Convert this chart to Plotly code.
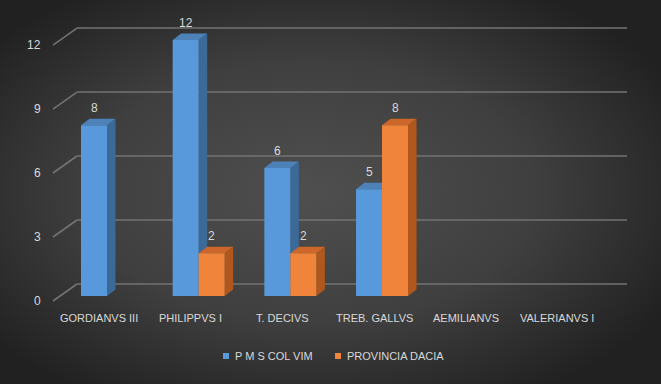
import base64
import plotly.graph_objects as go

# ---- data ----
categories = ["GORDIANVS III", "PHILIPPVS I", "T. DECIVS", "TREB. GALLVS", "AEMILIANVS", "VALERIANVS I"]
pms_col_vim = [8, 12, 6, 5, 0, 0]
provincia_dacia = [0, 2, 2, 8, 0, 0]
series_names = ["P M S COL VIM", "PROVINCIA DACIA"]
y_ticks = [0, 3, 6, 9, 12]

# ---- geometry of the pseudo-3D frame (pixels) ----
W, H = 661, 384
X0_PX = 107.0      # centre of the first category group
CAT_PX = 91.67     # distance between category groups
BASE_PX = 296.0    # baseline of the bar fronts
UNIT_PX = 21.33    # pixels per value unit
BAR_PX = 26.0      # bar width
DEPTH_X, DEPTH_Y = 8.5, 6.5        # bar depth offset
BACK_X0, BACK_X1 = 77.0, 627.0     # back wall extent
WALL_DX, WALL_UP, FRONT_DOWN = 24.0, 12.0, 5.0


def x_of(p):
    return (p - X0_PX) / CAT_PX


def y_of(p):
    return (BASE_PX - p) / UNIT_PX


def dx(p):
    return p / CAT_PX


def dy(p):
    return p / UNIT_PX


BLUE = dict(front="#5799da", side="#3b6a98", top="#4d82b9")
ORANGE = dict(front="#f0843a", side="#b0571d", top="#cc6629")
TEXT = "#d9d9d9"
FONT = "Liberation Sans"

bar_w = dx(BAR_PX)
x_idx = list(range(len(categories)))

fig = go.Figure()
fig.add_trace(go.Bar(x=x_idx, y=pms_col_vim, name=series_names[0],
                     marker=dict(color=BLUE["front"], line=dict(width=0))))
fig.add_trace(go.Bar(x=x_idx, y=provincia_dacia, name=series_names[1],
                     marker=dict(color=ORANGE["front"], line=dict(width=0))))

shapes = []
# back wall gridlines with the slanted floor/side ticks
for t in y_ticks:
    yb = t + dy(WALL_UP)
    yf = t - dy(FRONT_DOWN)
    shapes.append(dict(type="line", layer="below", xref="x", yref="y",
                       x0=x_of(BACK_X0), x1=x_of(BACK_X1), y0=yb, y1=yb,
                       line=dict(color="#737373", width=1.6)))
    shapes.append(dict(type="line", layer="below", xref="x", yref="y",
                       x0=x_of(BACK_X0 - WALL_DX), x1=x_of(BACK_X0), y0=yf, y1=yb,
                       line=dict(color="#737373", width=1.6)))

# side and top faces of the bars
ddx, ddy = dx(DEPTH_X), dy(DEPTH_Y)
for values, cols, left_off in ((pms_col_vim, BLUE, -bar_w), (provincia_dacia, ORANGE, 0.0)):
    for i, v in enumerate(values):
        if not v:
            continue
        l = i + left_off
        r = l + bar_w
        side = f"M{r},0 L{r + ddx},{ddy} L{r + ddx},{v + ddy} L{r},{v} Z"
        top = f"M{l},{v} L{l + ddx},{v + ddy} L{r + ddx},{v + ddy} L{r},{v} Z"
        shapes.append(dict(type="path", path=side, layer="between", xref="x", yref="y",
                           fillcolor=cols["side"], line=dict(width=0)))
        shapes.append(dict(type="path", path=top, layer="between", xref="x", yref="y",
                           fillcolor=cols["top"], line=dict(width=0)))

annotations = []
# value axis labels
for t in y_ticks:
    annotations.append(dict(x=x_of(43), y=t - dy(FRONT_DOWN), text=str(t), showarrow=False,
                            xanchor="right", yanchor="middle",
                            font=dict(family=FONT, size=12, color=TEXT)))
# category labels
for i, c in enumerate(categories):
    annotations.append(dict(x=i - dx(8), y=y_of(318), text=c, showarrow=False,
                            xanchor="center", yanchor="middle",
                            font=dict(family=FONT, size=11, color=TEXT)))
# data labels
for values, left_off in ((pms_col_vim, -bar_w), (provincia_dacia, 0.0)):
    for i, v in enumerate(values):
        if not v:
            continue
        annotations.append(dict(x=i + left_off + bar_w / 2, y=v, yshift=17, text=str(v),
                                showarrow=False, xanchor="center", yanchor="middle",
                                font=dict(family=FONT, size=12, color=TEXT)))

# legend
legend_items = [(series_names[0], BLUE["front"], 223.0), (series_names[1], ORANGE["front"], 335.0)]
for name, col, px in legend_items:
    shapes.append(dict(type="rect", layer="above", xref="x", yref="y",
                       x0=x_of(px), x1=x_of(px + 6), y0=y_of(359), y1=y_of(353),
                       fillcolor=col, line=dict(width=0)))
    annotations.append(dict(x=x_of(px + 10), y=y_of(356), text=name, showarrow=False,
                            xanchor="left", yanchor="middle",
                            font=dict(family=FONT, size=11, color=TEXT)))

# dark radial background
svg = (
    f'<svg xmlns="http://www.w3.org/2000/svg" width="{W}" height="{H}">'
    '<defs><radialGradient id="g" cx="47%" cy="50%" r="62%">'
    '<stop offset="0%" stop-color="#4f4f4f"/>'
    '<stop offset="55%" stop-color="#3f3f3f"/>'
    '<stop offset="100%" stop-color="#212121"/>'
    '</radialGradient></defs>'
    f'<rect width="{W}" height="{H}" fill="url(#g)"/></svg>'
)
bg = "data:image/svg+xml;base64," + base64.b64encode(svg.encode()).decode()

fig.update_layout(
    width=W, height=H,
    margin=dict(l=0, r=0, t=0, b=0),
    paper_bgcolor="#333333",
    plot_bgcolor="rgba(0,0,0,0)",
    barmode="group",
    bargap=1 - 2 * bar_w,
    bargroupgap=0,
    showlegend=False,
    xaxis=dict(range=[x_of(0), x_of(W)], visible=False, fixedrange=True),
    yaxis=dict(range=[y_of(H), y_of(0)], visible=False, fixedrange=True),
    shapes=shapes,
    annotations=annotations,
    images=[dict(source=bg, xref="paper", yref="paper", x=0, y=1, sizex=1, sizey=1,
                 xanchor="left", yanchor="top", sizing="stretch", layer="below")],
)

fig.write_html("out.html")
